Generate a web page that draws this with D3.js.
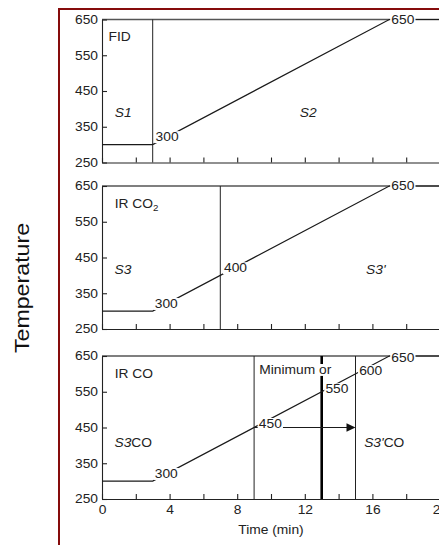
<!DOCTYPE html>
<html>
<head>
<meta charset="utf-8">
<script src="https://cdn.jsdelivr.net/npm/d3@7"></script>
<style>
    body { margin: 0; background: #fff; }
    svg { display: block; }
    text { font-family: "Liberation Sans", Arial, sans-serif; fill: #222; }
</style>
</head>
<body>
<svg id="chart" width="439" height="545"></svg>
<script>
    /*
    Oven temperature program (min, deg C), the same in every panel
     */
    var programTime = [0, 3, 17, 20];
    var programTemp = [300, 300, 650, 650];

    var panelNames = ["FID", "IR CO", "IR CO"];
    var panelSubs = ["", "2", ""];
    var yTicks = [250, 350, 450, 550, 650];
    var xTicks = [0, 2, 4, 6, 8, 10, 12, 14, 16, 18, 20];
    var xLabels = [0, 4, 8, 12, 16, 20];

    // vertical cut lines for each panel (time, bold?)
    var cutTimes = [[3], [7], [9, 13, 15]];
    var cutBold = [[false], [false], [false, true, false]];

    // temperature labels sitting on the ramp: panel, text, time, temp
    var rampPanel = [0, 0, 1, 1, 1, 2, 2, 2, 2, 2];
    var rampText = ["300", "650", "300", "400", "650", "300", "450", "550", "600", "650"];
    var rampTime = [3.85, 17.8, 3.8, 7.9, 17.8, 3.8, 9.96, 13.9, 15.9, 17.8];
    var rampTemp = [321, 650, 320, 420, 650, 320, 460, 557, 608, 645];

    // region names: panel, italic part, plain part, time, temp
    var regionPanel = [0, 0, 1, 1, 2, 2];
    var regionItalic = ["S1", "S2", "S3", "S3'", "S3", "S3'"];
    var regionPlain = ["", "", "", "", "CO", "CO"];
    var regionTime = [1.26, 12.2, 1.24, 16.2, 1.85, 16.7];
    var regionTemp = [389, 390, 415, 415, 406, 406];

    // the "minimum" note and arrow in the CO panel
    var noteText = "Minimum or";
    var noteTime = 11.44, noteTemp = 611;
    var arrowFrom = 9, arrowTo = 15, arrowTemp = 450;

    var SX = 1.15;   // glyphs in the source are a bit wide
    var svg = d3.select("#chart");

    var panelTop = [19.5, 186, 356];
    var panelH = 143;

    var x = d3.scaleLinear().domain([0, 20]).range([102, 440]);

    // dark red frame around the whole figure
    svg.append("rect")
        .attr("x", 59).attr("y", 9)
        .attr("width", 420).attr("height", 560)
        .attr("fill", "none")
        .attr("stroke", "#860c0c")
        .attr("stroke-width", 2);

    svg.append("text")
        .attr("transform", "translate(29,288) rotate(-90) scale(1.19,1)")
        .attr("text-anchor", "middle")
        .style("font-size", "19.5px")
        .style("fill", "#111")
        .text("Temperature");

    /*
    maskedLabel()
        text with a white box behind it, so the lines under it vanish
     */
    function maskedLabel(g, px, py, str, pad) {
        var lg = g.append("g")
            .attr("transform", "translate(" + px + "," + py + ") scale(" + SX + ",1)");
        var r = lg.append("rect").attr("fill", "#fff");
        var t = lg.append("text")
            .attr("text-anchor", "middle")
            .attr("dy", "0.35em")
            .style("font-size", "12px")
            .text(str);
        var b = t.node().getBBox();
        r.attr("x", b.x - pad).attr("y", b.y + 1)
            .attr("width", b.width + 2 * pad).attr("height", b.height - 2);
        return lg;
    }

    panelNames.forEach(function(name, p) {
        var y = d3.scaleLinear().domain([250, 650]).range([panelTop[p] + panelH, panelTop[p]]);
        var g = svg.append("g");

        // top border (650 line) and right border
        g.append("line")
            .attr("x1", x(0)).attr("x2", x(20))
            .attr("y1", y(650)).attr("y2", y(650))
            .attr("stroke", "#555").attr("stroke-width", 1.4);
        g.append("line")
            .attr("x1", x(20)).attr("x2", x(20))
            .attr("y1", y(650)).attr("y2", y(250))
            .attr("stroke", "#333");

        var yAxis = d3.axisLeft(y).tickValues(yTicks)
            .tickSizeInner(-5).tickSizeOuter(0).tickPadding(3);
        var ya = g.append("g").attr("transform", "translate(" + x(0) + ",0)").call(yAxis);

        var xAxis = d3.axisBottom(x).tickValues(xTicks)
            .tickSizeInner(-5).tickSizeOuter(0).tickPadding(6)
            .tickFormat(function(d) { return (p == 2 && xLabels.indexOf(d) >= 0) ? d : ""; });
        var xa = g.append("g").attr("transform", "translate(0," + y(250) + ")").call(xAxis);

        [ya, xa].forEach(function(a) {
            a.attr("font-family", null).attr("font-size", null);
            a.selectAll("path, line").attr("stroke", "#222").attr("stroke-width", 1.1);
            a.selectAll("text")
                .style("font-size", "12px")
                .style("fill", "#222")
                .attr("transform", "scale(" + SX + ",1)");
        });
        ya.selectAll("text").attr("x", -3.5);

        // vertical cut lines
        cutTimes[p].forEach(function(t, i) {
            g.append("line")
                .attr("x1", x(t)).attr("x2", x(t))
                .attr("y1", y(650)).attr("y2", y(250))
                .attr("stroke", cutBold[p][i] ? "#000" : "#222")
                .attr("stroke-width", cutBold[p][i] ? 2.6 : 1);
        });

        // the temperature program itself
        var line = d3.line()
            .x(function(d, i) { return x(programTime[i]); })
            .y(function(d) { return y(d); });
        g.append("path")
            .datum(programTemp)
            .attr("d", line)
            .attr("fill", "none")
            .attr("stroke", "#1a1a1a")
            .attr("stroke-width", 1.2);

        if (p == 2) {
            g.append("line")
                .attr("x1", x(arrowFrom)).attr("x2", x(arrowTo) - 8)
                .attr("y1", y(arrowTemp)).attr("y2", y(arrowTemp))
                .attr("stroke", "#1a1a1a").attr("stroke-width", 1);
            g.append("path")
                .attr("d", "M" + x(arrowTo) + "," + y(arrowTemp) +
                    "l-9,-4.2l0,8.4z")
                .attr("fill", "#111");
            maskedLabel(g, x(noteTime), y(noteTemp), noteText, 0.5);
        }

        // panel title, with subscript
        var title = g.append("text")
            .attr("transform", "translate(" + x(p == 0 ? 0.39 : 0.75) + "," + (y(650) + 17.5) + ") scale(" + SX + ",1)")
            .attr("dy", "0.35em")
            .style("font-size", "12px")
            .text(name);
        if (panelSubs[p])
            title.append("tspan").attr("dy", 3).style("font-size", "8.5px").text(panelSubs[p]);

        // region names
        regionPanel.forEach(function(rp, i) {
            if (rp != p) return;
            var t = g.append("text")
                .attr("transform", "translate(" + x(regionTime[i]) + "," + y(regionTemp[i]) + ") scale(" + SX + ",1)")
                .attr("text-anchor", "middle")
                .attr("dy", "0.35em")
                .style("font-size", "12px");
            t.append("tspan").style("font-style", "italic").text(regionItalic[i]);
            if (regionPlain[i]) t.append("tspan").text(regionPlain[i]);
        });

        // temperature values on the ramp
        rampPanel.forEach(function(rp, i) {
            if (rp != p) return;
            maskedLabel(g, x(rampTime[i]), y(rampTemp[i]), rampText[i], 1);
        });

        if (p == 2) {
            svg.append("text")
                .attr("transform", "translate(" + x(10) + "," + (y(250) + 35) + ") scale(" + SX + ",1)")
                .attr("text-anchor", "middle")
                .style("font-size", "12px")
                .text("Time (min)");
        }
    });
</script>
</body>
</html>
